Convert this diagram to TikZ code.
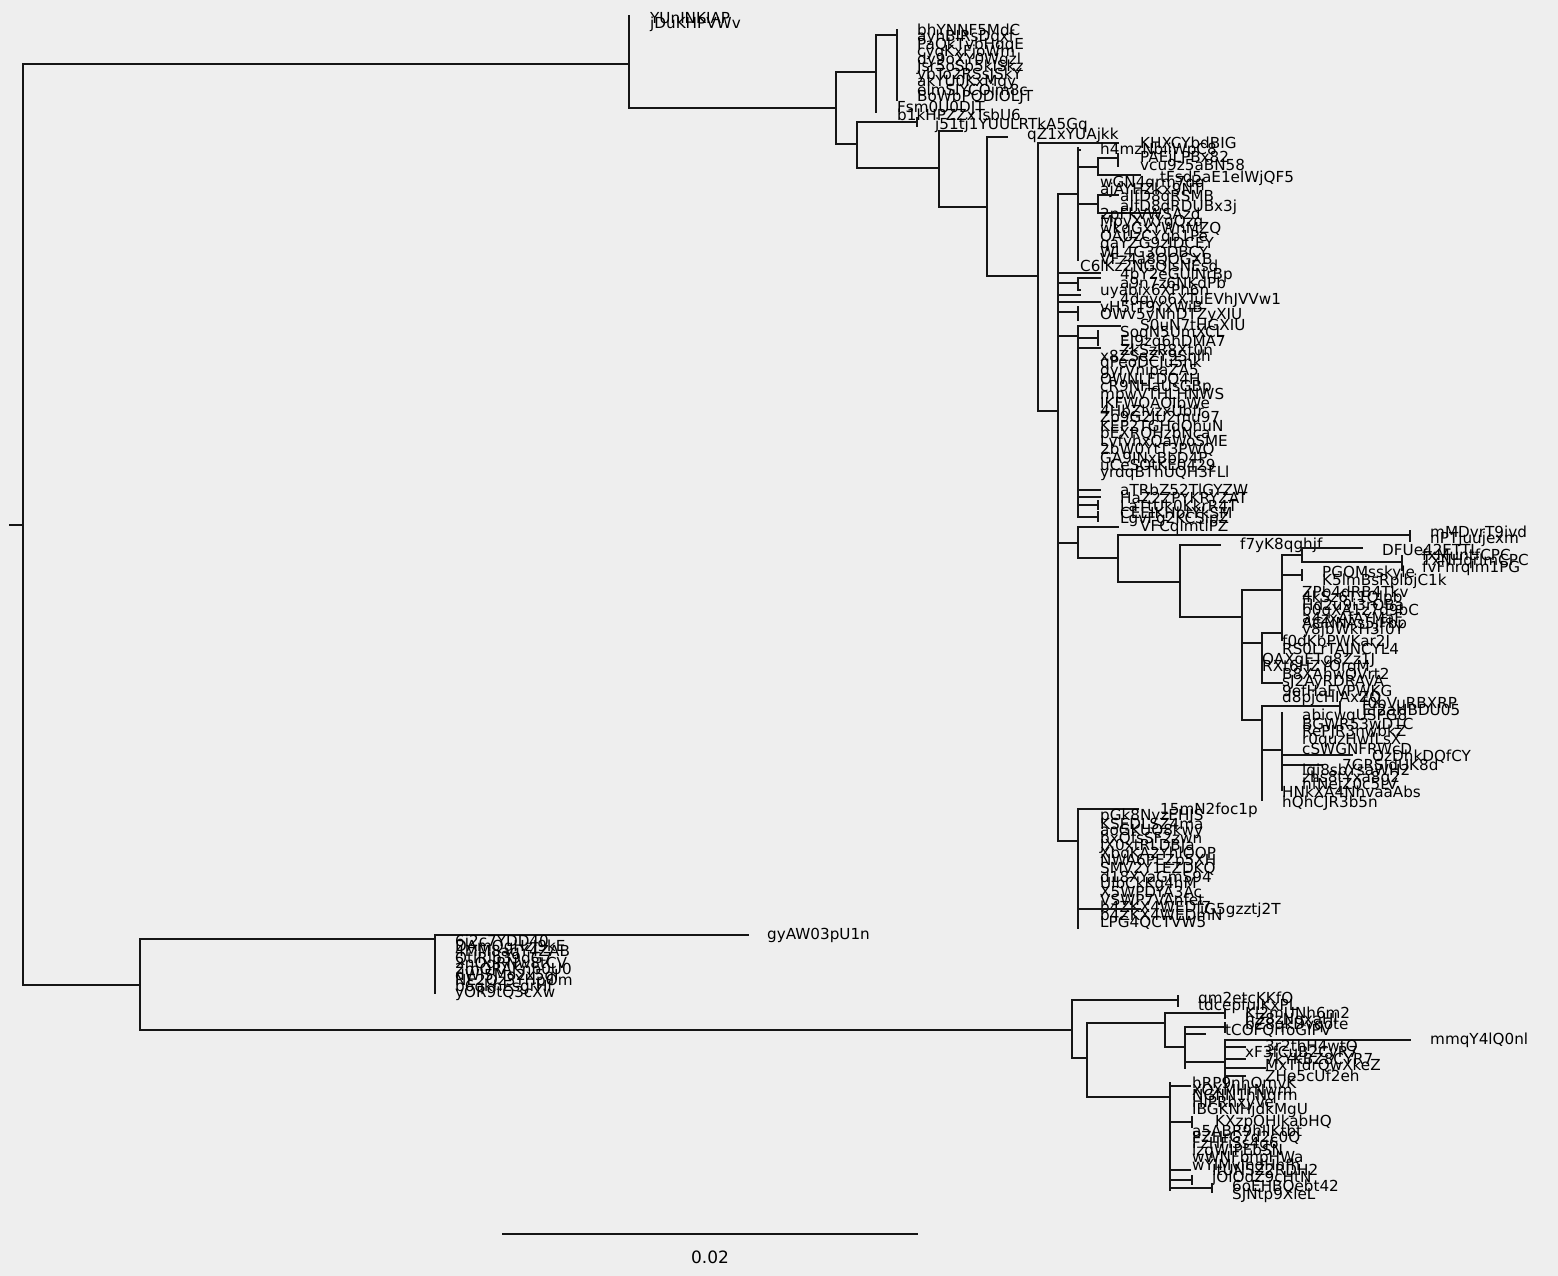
\documentclass[tikz,border=0pt]{standalone}
\usepackage{fontspec}
\setmainfont{DejaVu Sans}
\definecolor{bgc}{HTML}{EEEEEE}
\definecolor{lnc}{HTML}{151515}
\tikzset{
  br/.style={draw=lnc, line width=1.8pt, line cap=rect},
  lbl/.style={anchor=west, inner sep=0pt, font=\fontsize{15.2}{15.2}\selectfont, text=black},
  sclbl/.style={anchor=center, inner sep=0pt, font=\fontsize{17}{17}\selectfont, text=black}
}
\newcommand{\Hbr}[3]{\draw[br] (#1,#3) -- (#2,#3);}
\newcommand{\Vbr}[3]{\draw[br] (#1,#2) -- (#1,#3);}
\newcommand{\Lbl}[3]{\node[lbl] (#3) at (#1,#2) {#3};}
\newcommand{\Stack}[4]{\foreach \nm [count=\i from 0] in {#4} {\node[lbl] (\nm) at (#1,{#2+#3*\i}) {\nm};}}
\begin{document}
\begin{tikzpicture}[x=1pt,y=-1pt]
\fill[bgc] (0,0) rectangle (1558,1276);
\useasboundingbox (0,0) rectangle (1558,1276);
% root
\Hbr{10}{23}{525}
\Vbr{23}{64}{985}
% ---------- top clade
\Hbr{23}{629}{64}
\Vbr{629}{16}{108}
\Lbl{650}{18}{YUnINKIAP}
\Lbl{650}{24}{jDuKHPVWv}
\Hbr{629}{836}{108}
\Vbr{836}{72}{144}
\Hbr{836}{876}{72}
\Vbr{876}{35}{112}
\Hbr{876}{897}{35}
\Vbr{897}{30}{100}
\Stack{917}{30}{7.5}{bhYNNF5MdC,ayhBIRsDqxf,PaQkTvbHqqE,cyqKxFjoWm,dy9oXY0Wgzl,Jsr5oSb5kISkz,ybTo2RSsJSkY,akYU0KxMqy,elmSIYCOim8c,BoWbPODIOLJT}
\Lbl{897}{108}{Fsm0U0DJT}
\Lbl{897}{115}{b1kHPZZxTsbU6}
\Hbr{836}{857}{144}
\Vbr{857}{122}{168}
\Hbr{857}{917}{122}
\Vbr{917}{118}{126}
\Lbl{935}{125}{j51tj1YUULRTkA5Gq}
\Hbr{857}{939}{168}
\Vbr{939}{131}{207}
\Hbr{939}{962}{131}
\Hbr{939}{987}{207}
\Vbr{987}{137}{276}
\Hbr{987}{1007}{137}
\Lbl{1027}{135}{qZ1xYUAjkk}
\Hbr{987}{1038}{276}
\Vbr{1038}{143}{411}
\Hbr{1038}{1118}{143}
\Lbl{1140}{143}{KHXCYbdBIG}
\Hbr{1038}{1058}{411}
\Vbr{1058}{194}{841}
% comb 1
\Hbr{1058}{1078}{194}
\Vbr{1078}{148}{260}
\Hbr{1078}{1080}{150}
\Lbl{1100}{150}{h4mzNbiiWpC8}
\Hbr{1078}{1098}{167}
\Vbr{1098}{158}{175}
\Hbr{1098}{1118}{158}
\Vbr{1118}{154}{166}
\Lbl{1140}{157}{PAEiLPBx82}
\Lbl{1140}{165}{vcu9z5aBN58}
\Hbr{1098}{1140}{175}
\Lbl{1160}{178}{tFsd5aE1elWjQF5}
\Stack{1100}{183}{7}{wGN4qrm7dq,ajAYHZkx9NT}
\Hbr{1078}{1098}{204}
\Vbr{1098}{195}{213}
\Hbr{1098}{1118}{195}
\Hbr{1098}{1160}{213}
\Lbl{1120}{197}{aIfD8qRSMB}
\Lbl{1120}{207}{aIfD8qRDUBx3j}
\Stack{1100}{215}{7.4}{2pFkVWSAzd,MpyXwYgQzq,wkqGxYWnMZQ,OAUzCYqb1Pe,qaYZG9zIDCEY,WL4G3ODBCY,VFz4a8QOGXB}
\Lbl{1080}{267}{C6lKz2NGQIsNEsd}
% children of 1058
\Hbr{1058}{1100}{273}
\Lbl{1120}{275}{4bY2eGUlNrBp}
\Hbr{1058}{1078}{283}
\Vbr{1078}{278}{290}
\Hbr{1078}{1100}{278}
\Hbr{1078}{1080}{290}
\Lbl{1120}{283}{a9n7z6NKdPb}
\Hbr{1058}{1080}{295}
\Lbl{1100}{291}{uyabix6XPh6n}
\Hbr{1058}{1100}{302}
\Lbl{1120}{300}{4dqyo6XTuEVhJVVw1}
\Hbr{1058}{1078}{312}
\Vbr{1078}{307}{320}
\Lbl{1100}{307}{vH5tT9YxWiB}
\Lbl{1100}{315}{OWv5yNhDTZyXIU}
% comb 2
\Hbr{1058}{1078}{336}
\Vbr{1078}{326}{517}
\Hbr{1078}{1120}{326}
\Lbl{1140}{325}{S0uN7tHGXIU}
\Hbr{1078}{1098}{338}
\Vbr{1098}{331}{345}
\Lbl{1120}{333}{SoqN5UmXCL}
\Lbl{1120}{342}{EJ9zq6hDMA7}
\Hbr{1078}{1100}{348}
\Lbl{1120}{350}{ZkSzR8Xt0n}
\Stack{1100}{356}{7.8}{x8ZSeZY9Snlh,qPeoDCJu5nk,gyrVnipaZA5,OWNLFDQ4H,cR9NHaUsGBp,mpwVTHLHNWS,IKFWOAOIbWe,4HbZlvzxUbfr,Zo9G2JU2mu97,KEP2TGHdOhuN,bEXRQHzbNca,LvfvhxQaWoSME,2bW0YtT3PWQ,GA9INxBbD4P,uCeSOtKE0429,yrdqBThUQH3FLl}
\Hbr{1078}{1100}{490}
\Lbl{1120}{490}{aTRbZ52TlGYZW}
\Hbr{1078}{1100}{497}
\Lbl{1120}{498}{HaZ2ZPYKRYZAT}
\Hbr{1078}{1098}{505}
\Vbr{1098}{501}{509}
\Lbl{1120}{506}{LaTtUk0KkrR4T}
\Hbr{1078}{1098}{517}
\Vbr{1098}{512}{521}
\Lbl{1120}{513}{CEEIKHbtYkSM}
% f7yK8 group
\Hbr{1058}{1078}{543}
\Vbr{1078}{527}{558}
\Hbr{1078}{1118}{527}
\Lbl{1120}{519}{LgvFg2KCSipZ}
\Lbl{1140}{527}{VFCqlmtlPZ}
\Hbr{1078}{1118}{558}
\Vbr{1118}{535}{582}
\Hbr{1118}{1410}{535}
\Vbr{1410}{531}{541}
\Lbl{1430}{532}{mMDvrT9ivd}
\Lbl{1430}{539}{nPTjuujexm}
\Hbr{1118}{1180}{582}
\Vbr{1180}{545}{617}
\Hbr{1180}{1220}{545}
\Lbl{1240}{545}{f7yK8qghjf}
\Hbr{1180}{1242}{617}
\Vbr{1242}{590}{720}
\Hbr{1242}{1282}{590}
\Vbr{1282}{555}{630}
\Hbr{1282}{1302}{555}
\Vbr{1302}{548}{562}
\Hbr{1302}{1362}{548}
\Lbl{1382}{550}{DFUe42ETTL}
\Hbr{1302}{1402}{562}
\Vbr{1402}{556}{570}
\Lbl{1422}{555}{fxMuntfCPC}
\Lbl{1422}{561}{TxNHqrlmCPC}
\Lbl{1422}{568}{fvFhrqlm1PG}
\Hbr{1282}{1302}{575}
\Vbr{1302}{570}{580}
\Lbl{1322}{573}{PGOMsskyle}
\Lbl{1322}{581}{K5lmBsRplbjC1k}
\Stack{1302}{592}{6.4}{ZPb4dRB4Tkv,4kSz6T1Qlpb,Hd2u9i3rOBa,b0qXA1z7d9bC,a4zxAfAYMaF,AGNNAs5jFbp,y8jbWkH3f0Y}
\Hbr{1242}{1262}{643}
\Vbr{1262}{633}{683}
\Hbr{1262}{1282}{633}
\Vbr{1282}{628}{640}
\Lbl{1282}{642}{f0dKbPWKar2J}
\Lbl{1282}{650}{RS0LrTAJNCYL4}
\Lbl{1262}{660}{OAXgETg8Zz1J}
\Lbl{1262}{667}{RXt6HZYOrqM}
\Hbr{1262}{1282}{683}
\Stack{1282}{675}{7.7}{B8XAhwQVrt2,sJ2AyRDRAVA,9efHaFVPWKG,d8pjcHIAxZQ}
\Hbr{1242}{1262}{720}
\Vbr{1262}{706}{800}
\Hbr{1262}{1340}{706}
\Vbr{1340}{702}{712}
\Lbl{1362}{703}{f0bVuRBXRP}
\Lbl{1362}{710}{Ef2aHBDU05}
\Hbr{1262}{1282}{750}
\Vbr{1282}{713}{790}
\Stack{1302}{716}{8.2}{abicwqUSPG8,BGWR53wD1C,RePJR3nwbkZ,r0quzHwfLsX,cSWGNFRWcD}
\Hbr{1282}{1352}{755}
\Lbl{1372}{757}{OzDhkDQfCY}
\Hbr{1282}{1322}{765}
\Lbl{1342}{765}{7GRSIdUK8d}
\Stack{1302}{771}{7.2}{lqi8sbYsaWH2,zhs8tYxa8g2,hfNejZ0c5LV}
\Lbl{1282}{792}{HNkXA4NhvaaAbs}
\Lbl{1282}{803}{hQhCJR3b5n}
% 15mN clade
\Hbr{1058}{1078}{841}
\Vbr{1078}{809}{928}
\Hbr{1078}{1138}{809}
\Lbl{1160}{810}{15mN2foc1p}
\Stack{1100}{816}{7.6}{pGk8NyzEHJS,KSEDLSZ4ma,aoGKUQ8kwy,bxQfsSF2zwn,JX0xtRLDBJa,XbqKA2YhlQOP,NWA6PEZp5XH,SMV2Y1EZDKQ,d18XYaGmS94,UlbCkKg4hM,X5WPDYA3Ac,VSWP7VAnfet,b4ZKX4WEDf7,b4ZKX4WEDmN,LPG4QCTVW5}
\Hbr{1078}{1140}{909}
\Lbl{1200}{910}{iG5gzztj2T}
% ---------- lower clade
\Hbr{23}{140}{985}
\Vbr{140}{939}{1030}
\Hbr{140}{435}{939}
\Vbr{435}{935}{993}
\Hbr{435}{748}{935}
\Lbl{767}{935}{gyAW03pU1n}
\Stack{455}{941}{5.8}{6i2c7YDD40,DAmQgHzJ9kE,4MM8aqY4ZAB,QtlRlb39dG7,2nOqRNw8tCV,2mQRAKnb0U0,dWl5Mo2x5qI,NE2Qz3YHpOm,b6qkhEsgrHf,yOR9tQ3cXw}
\Hbr{140}{1072}{1030}
\Vbr{1072}{1000}{1058}
\Hbr{1072}{1178}{1000}
\Vbr{1178}{996}{1006}
\Lbl{1198}{999}{qm2etcKKfO}
\Lbl{1198}{1006}{tdcepfuIKxPL}
\Hbr{1072}{1087}{1058}
\Vbr{1087}{1023}{1097}
\Hbr{1087}{1165}{1023}
\Vbr{1165}{1013}{1047}
\Hbr{1165}{1225}{1013}
\Vbr{1225}{1009}{1018}
\Lbl{1245}{1013}{Kl2mUNh6m2}
\Lbl{1245}{1020}{hZ8zNqxaHl}
\Hbr{1165}{1185}{1047}
\Vbr{1185}{1027}{1068}
\Hbr{1185}{1225}{1027}
\Vbr{1225}{1023}{1032}
\Lbl{1245}{1025}{bZ8qkDvqote}
\Lbl{1225}{1031}{tCOFQrfoGIPV}
\Hbr{1185}{1205}{1034}
\Hbr{1185}{1225}{1062}
\Vbr{1225}{1040}{1083}
\Hbr{1225}{1410}{1040}
\Lbl{1430}{1040}{mmqY4lQ0nl}
\Hbr{1225}{1245}{1047}
\Lbl{1265}{1047}{3r2thH4wtQ}
\Lbl{1245}{1053}{xF3fCuB2CyR7}
\Hbr{1225}{1245}{1059}
\Lbl{1265}{1059}{7kYKBZ8CYR7}
\Hbr{1225}{1265}{1068}
\Lbl{1265}{1066}{MxTfdrQwXkeZ}
\Hbr{1225}{1245}{1076}
\Lbl{1265}{1076}{ZHe5cUf2eh}
\Hbr{1087}{1170}{1097}
\Vbr{1170}{1083}{1190}
\Hbr{1170}{1190}{1086}
\Stack{1192}{1083}{6.8}{hRP9nhOmvK,XOXMHrNwm,NGfIN1hNqrm,HlPRhxyVe,IBGKNHjdkMgU}
\Hbr{1170}{1192}{1122}
\Vbr{1192}{1117}{1127}
\Lbl{1215}{1122}{KXzpQHlkabHQ}
\Stack{1192}{1131}{6.8}{a5ABR9hIlKtbt,PZHrG7d2c0Q,FzHFiSs4g6,lzqWIPEbSN,wWNFbhpHWa,wYIMvIhdHnfh}
\Hbr{1170}{1190}{1170}
\Lbl{1212}{1170}{ItUNSZ2RDH2}
\Hbr{1170}{1192}{1180}
\Vbr{1192}{1176}{1184}
\Lbl{1212}{1178}{jOlOdZ9cHtN}
\Hbr{1170}{1212}{1188}
\Vbr{1212}{1184}{1192}
\Lbl{1232}{1187}{6oEHBQebt42}
\Lbl{1232}{1195}{SJNtp9XleL}
% scale bar
\coordinate (sbA) at (502,1234);
\coordinate (sbB) at (918,1234);
\draw[draw=lnc, line width=1.8pt] (sbA) -- (sbB);
\node[sclbl] (sblabel) at (710,1257) {0.02};
\end{tikzpicture}
\end{document}
